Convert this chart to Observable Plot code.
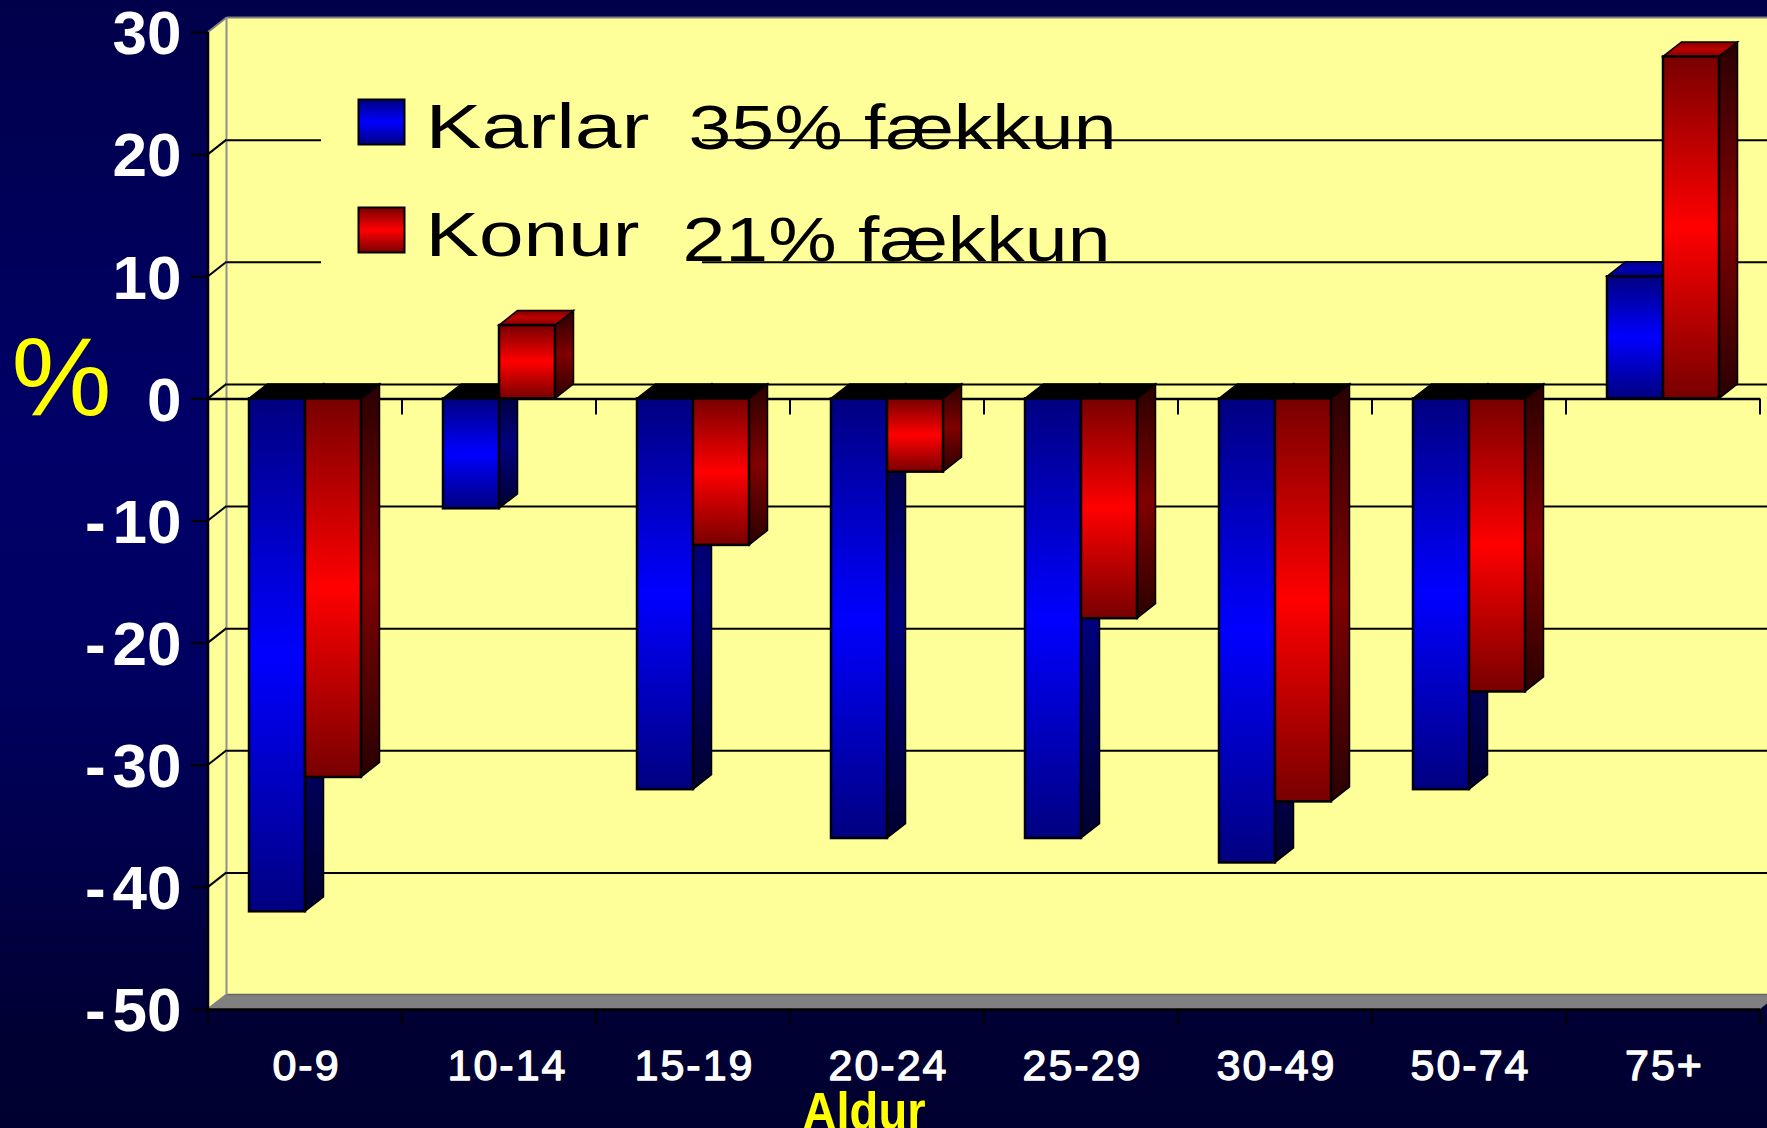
<!DOCTYPE html>
<html>
<head>
<meta charset="utf-8">
<script src="https://cdn.jsdelivr.net/npm/d3@7"></script>
<script src="https://cdn.jsdelivr.net/npm/@observablehq/plot@0.6"></script>
<style>
html,body{margin:0;padding:0;width:1767px;height:1128px;overflow:hidden;
background:linear-gradient(to bottom,#00004a 0%,#000068 40%,#000060 60%,#000033 92%,#000030 100%);}
svg{display:block}
</style>
</head>
<body>
<div id="chart"></div>
<script>
const ages = ["0-9","10-14","15-19","20-24","25-29","30-49","50-74","75+"];
const karlar = [-42,-9,-32,-36,-36,-38,-32,10];
const konur = [-31,6,-12,-6,-18,-33,-24,28];
const yTicks = [30,20,10,0,-10,-20,-30,-40,-50];
const gridValues = [20,10,0,-10,-20,-30,-40];
const legendNames = ["Karlar","Konur"];
const legendNotes = ["35% fækkun","21% fækkun"];
const yLabel = "%";
const xLabel = "Aldur";

const DX = 18.5, DY = 14.5, BAR = 56;
const BLUE_LEFT = 41, RED_LEFT = 97;
const FONT = "'Liberation Sans',Arial,sans-serif";
const NS = "http://www.w3.org/2000/svg";

function el(name, attrs, parent){
  const e = document.createElementNS(NS, name);
  for (const k in attrs) e.setAttribute(k, attrs[k]);
  if (parent) parent.appendChild(e);
  return e;
}
function grad(defs, id, edge, mid){
  const g = el("linearGradient",{id,x1:0,y1:0,x2:0,y2:1},defs);
  el("stop",{offset:"0%","stop-color":edge},g);
  el("stop",{offset:"50%","stop-color":mid},g);
  el("stop",{offset:"100%","stop-color":edge},g);
}
const defsMark = () => {
  const d = el("defs",{});
  grad(d,"blueFront","#000080","#0000ff");
  grad(d,"redFront","#780000","#ff0000");
  grad(d,"blueSide","#000030","#000080");
  grad(d,"redSide","#2a0000","#800000");
  grad(d,"blueTop","#000090","#0000b0");
  grad(d,"redTop","#800000","#c00000");
  return d;
};
const pts = a => a.map(p=>p.join(",")).join(" ");

// pseudo-3D room: left wall, floor and back-wall outline
const roomMark = (i,{y},c,{width,marginLeft:l,marginRight:r}) => {
  const g = el("g",{});
  const t = y(30), b = y(-50), R = width - r;
  el("polygon",{points:pts([[l,t],[l+DX,t-DY],[R+DX,t-DY],[R+DX,b-DY],[l,b]]),fill:"#ffff99"},g);
  el("polygon",{points:pts([[l,b],[l+DX,b-DY],[R+DX,b-DY],[R,b]]),fill:"#808080"},g);
  el("line",{x1:l+DX,x2:R+DX,y1:b-DY,y2:b-DY,stroke:"#666","stroke-width":1.5},g);
  el("line",{x1:l+DX,x2:R+DX,y1:t-DY,y2:t-DY,stroke:"#808080","stroke-width":2},g);
  el("line",{x1:l,x2:l+DX,y1:t,y2:t-DY,stroke:"#808080","stroke-width":2},g);
  el("line",{x1:l,x2:l+DX,y1:b,y2:b-DY,stroke:"#808080","stroke-width":2},g);
  el("line",{x1:l+DX,x2:l+DX,y1:t-DY,y2:b-DY,stroke:"#909090","stroke-width":2},g);
  return g;
};
// short diagonals joining the axis ticks to the back-wall grid lines
const wallLinks = (i,{y},c,{marginLeft:l}) => {
  const g = el("g",{});
  for (const v of gridValues)
    el("line",{x1:l,x2:l+DX,y1:y(v),y2:y(v)-DY,stroke:"#000","stroke-width":2},g);
  return g;
};
const frontAxis = (i,{x,y},c,{width,marginLeft:l,marginRight:r}) => {
  const g = el("g",{});
  el("line",{x1:l,x2:l,y1:y(30),y2:y(-50),stroke:"#000","stroke-width":2.5},g);
  el("line",{x1:l,x2:width-r,y1:y(-50)+0.5,y2:y(-50)+0.5,stroke:"#000","stroke-width":2.5},g);
  const edges = ages.map(a=>x(a)).concat(x(ages[7])+x.bandwidth());
  edges.forEach((e,k)=>{
    el("line",{x1:e,x2:e,y1:y(-50),y2:y(-50)+16,stroke:"#000","stroke-width":2},g);
    if (k>0) el("line",{x1:e,x2:e,y1:y(0),y2:y(0)+16,stroke:"#000","stroke-width":2},g);
  });
  return g;
};
// the yellow panel behind the legend, which hides the grid lines
const legendPanel = (i,{y}) => {
  const g = el("g",{});
  el("rect",{x:321,width:381,y:y(20)-30,height:y(10)-y(20)+30,fill:"#ffff99"},g);
  return g;
};
const swatches = () => {
  const g = el("g",{});
  el("rect",{x:358.5,y:99.5,width:46,height:45,fill:"url(#blueFront)",stroke:"#000","stroke-width":2},g);
  el("rect",{x:358.5,y:207.5,width:46,height:45,fill:"url(#redFront)",stroke:"#000","stroke-width":2},g);
  return g;
};
// the side and top faces of one series of bars
const faces = (values, left, name) => (i,{x,y}) => {
  const g = el("g",{});
  ages.forEach((a,k)=>{
    const v = values[k], x1 = x(a)+left, x2 = x1+BAR;
    const yT = Math.min(y(0),y(v)), yB = Math.max(y(0),y(v));
    el("polygon",{points:pts([[x2,yT],[x2+DX,yT-DY],[x2+DX,yB-DY],[x2,yB]]),
      fill:`url(#${name}Side)`,stroke:"#000","stroke-width":1.5},g);
    el("polygon",{points:pts([[x1,yT],[x1+DX,yT-DY],[x2+DX,yT-DY],[x2,yT]]),
      fill:v<0?"#000":`url(#${name}Top)`,stroke:"#000","stroke-width":1.5},g);
  });
  return g;
};
const withAttrs = attrs => (index,scales,values,dims,ctx,next) => {
  const g = next(index,scales,values,dims,ctx);
  g.querySelectorAll("text").forEach(t=>{ for (const k in attrs) t.setAttribute(k,attrs[k]); });
  return g;
};
const label = (s,xp,base,size,fill,weight,len,extra={}) => Plot.text([s],{
  text:d=>d, frameAnchor:"top-left", textAnchor:"start", lineAnchor:"bottom",
  dx:xp-208, dy:base-32, fontSize:size, fill, fontWeight:weight, fontFamily:FONT,
  render: withAttrs({textLength:len,lengthAdjust:"spacingAndGlyphs"}), ...extra
});
const xLabelOpts = {
  text:d=>d, x:d=>d, frameAnchor:"bottom", lineAnchor:"bottom", dy:70, dx:1,
  fontSize:43, fontWeight:"normal", fill:"white", stroke:"white", strokeWidth:1.3, fontFamily:FONT,
  render: withAttrs({"letter-spacing":"2"})
};
const row = ages.map((age,k)=>({age,karlar:karlar[k],konur:konur[k]}));
const bars = (key,left,fill) => Plot.barY(row,{
  x:"age", y:key, fill, stroke:"#000", strokeWidth:2.5,
  insetLeft:left, insetRight:194-left-BAR
});

const chart = Plot.plot({
  width:1767, height:1128,
  marginTop:32, marginBottom:119, marginLeft:208, marginRight:7,
  style:{background:"transparent",overflow:"hidden"},
  x:{type:"band",domain:ages,padding:0,round:false,axis:null},
  y:{type:"linear",domain:[-50,30],range:[1009,32],axis:null},
  marks:[
    defsMark,
    roomMark,
    Plot.ruleY(gridValues,{y:d=>d,dx:DX,dy:-DY,stroke:"#000",strokeWidth:2}),
    wallLinks,
    legendPanel,
    Plot.ruleY([0],{stroke:"#000",strokeWidth:2.5}),
    frontAxis,
    Plot.axisY({ticks:yTicks,tickFormat:String,tickSize:17,tickPadding:10,stroke:"#000",strokeWidth:2,
      fill:"white",fontSize:62,fontWeight:"bold",fontFamily:FONT,label:null,anchor:"left"}),
    faces(karlar,BLUE_LEFT,"blue"),
    bars("karlar",BLUE_LEFT,"url(#blueFront)"),
    faces(konur,RED_LEFT,"red"),
    bars("konur",RED_LEFT,"url(#redFront)"),
    Plot.text(ages.filter(a=>a!=="10-14"),xLabelOpts),
    Plot.text(["10-14"],{...xLabelOpts,dx:8}),
    swatches,
    label(legendNames[0],425,147,63,"#000","normal",224),
    label(legendNames[1],425,255,63,"#000","normal",214),
    label(legendNotes[0],688,148,63,"#000","normal",428),
    label(legendNotes[1],682,260,63,"#000","normal",428),
    label(yLabel,11,414,112,"#ffff00","normal",100),
    label(xLabel,802,1128,51,"#ffff00","bold",123)
  ]
});
// the reference sets a wider gap after the minus sign of the negative tick labels
chart.querySelectorAll('g[aria-label="y-axis tick label"] text').forEach(t=>{
  t.setAttribute("dy","2");
  if (t.textContent.startsWith("-")) t.setAttribute("dx","0 7");
});
document.getElementById("chart").appendChild(chart);
</script>
</body>
</html>
